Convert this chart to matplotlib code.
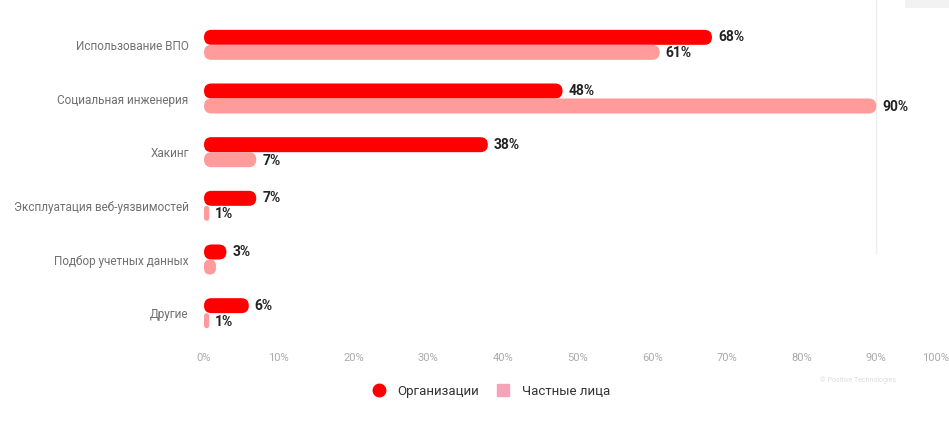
import matplotlib
matplotlib.use("Agg")
import matplotlib.pyplot as plt
import matplotlib.transforms as mtransforms
from matplotlib.patches import FancyBboxPatch, Rectangle
from matplotlib.lines import Line2D

plt.rcParams['font.family'] = ['Roboto', 'DejaVu Sans']

categories = ["Использование ВПО", "Социальная инженерия", "Хакинг",
              "Эксплуатация веб-уязвимостей", "Подбор учетных данных", "Другие"]
org_values = [68, 48, 38, 7, 3, 6]
org_labels = ["68%", "48%", "38%", "7%", "3%", "6%"]
priv_values = [61, 90, 7, 0.7, 1.6, 0.7]
priv_labels = ["61%", "90%", "7%", "1%", "", "1%"]
xticks = [0, 10, 20, 30, 40, 50, 60, 70, 80, 90, 100]
xtick_labels = ["0%", "10%", "20%", "30%", "40%", "50%", "60%", "70%", "80%", "90%", "100%"]
series_names = ["Организации", "Частные лица"]

ORG = "#ff0000"
PRIV = "#ff9b9b"

W, H = 949, 423
fig = plt.figure(figsize=(W / 100, H / 100), dpi=100)
ax_l, ax_r, ax_t, ax_b = 204, 951, 18, 340
ax = fig.add_axes([ax_l / W, 1 - ax_b / H, (ax_r - ax_l) / W, (ax_b - ax_t) / H])
ax.set_xlim(0, 100)
ax.set_ylim(len(categories) - 0.5, -0.5)

xu_per_px = 100 / (ax_r - ax_l)
yu_per_px = len(categories) / (ax_b - ax_t)
aspect = yu_per_px / xu_per_px
bar_h = 15 * yu_per_px
off = bar_h / 2

def rbar(y_center, value, color):
    r_full = bar_h / 2 / aspect  # half-height in x units
    r = min(r_full, value / 2)
    p = FancyBboxPatch((0, y_center - bar_h / 2), value, bar_h,
                       boxstyle=f"round,pad=0,rounding_size={r}",
                       mutation_aspect=aspect, facecolor=color,
                       edgecolor='none', zorder=3)
    ax.add_patch(p)

for i in range(len(categories)):
    rbar(i - off, org_values[i], ORG)
    rbar(i + off, priv_values[i], PRIV)
    ax.text(org_values[i] + 6 * xu_per_px, i - off, org_labels[i], va='center', ha='left',
            fontsize=10, fontweight='bold', color='#222222', zorder=4)
    if priv_labels[i]:
        ax.text(priv_values[i] + 6 * xu_per_px, i + off + 0.02, priv_labels[i], va='center', ha='left',
                fontsize=10, fontweight='bold', color='#222222', zorder=4)

ax.axvline(90, ymin=0.27, ymax=1.056, color='#eeeeee', lw=1, zorder=1, clip_on=False)

ax.set_yticks(range(len(categories)))
ax.set_yticklabels(categories, fontsize=8.5, color='#707070')
ax.set_xticks(xticks)
ax.set_xticklabels(xtick_labels, fontsize=8, color='#aaaaaa')
ax.tick_params(axis='y', length=0, pad=11)
ax.tick_params(axis='x', length=0, pad=9)
for s in ax.spines.values():
    s.set_visible(False)

last = ax.get_xticklabels()[-1]
last.set_transform(last.get_transform() + mtransforms.ScaledTranslation(-15 / 100, 0, fig.dpi_scale_trans))

handles = [Line2D([], [], marker='o', linestyle='none', markersize=9, color=ORG),
           Line2D([], [], marker='s', linestyle='none', markersize=8, color='#f5a3b8')]
fig.legend(handles, series_names, loc='center', bbox_to_anchor=(488 / W, 1 - 391 / H),
           ncol=2, frameon=False, fontsize=9.5, handletextpad=0.4, columnspacing=0.8,
           labelcolor='#333333')

fig.text(858 / W, 1 - 380 / H, "© Positive Technologies", fontsize=5, color='#dddddd',
         ha='center', va='center')
fig.patches.append(Rectangle((905 / W, 1 - 8 / H), 44 / W, 8 / H, transform=fig.transFigure,
                             facecolor='#f2f2f2', edgecolor='none'))

fig.savefig("out.png", dpi=100, facecolor='white')
